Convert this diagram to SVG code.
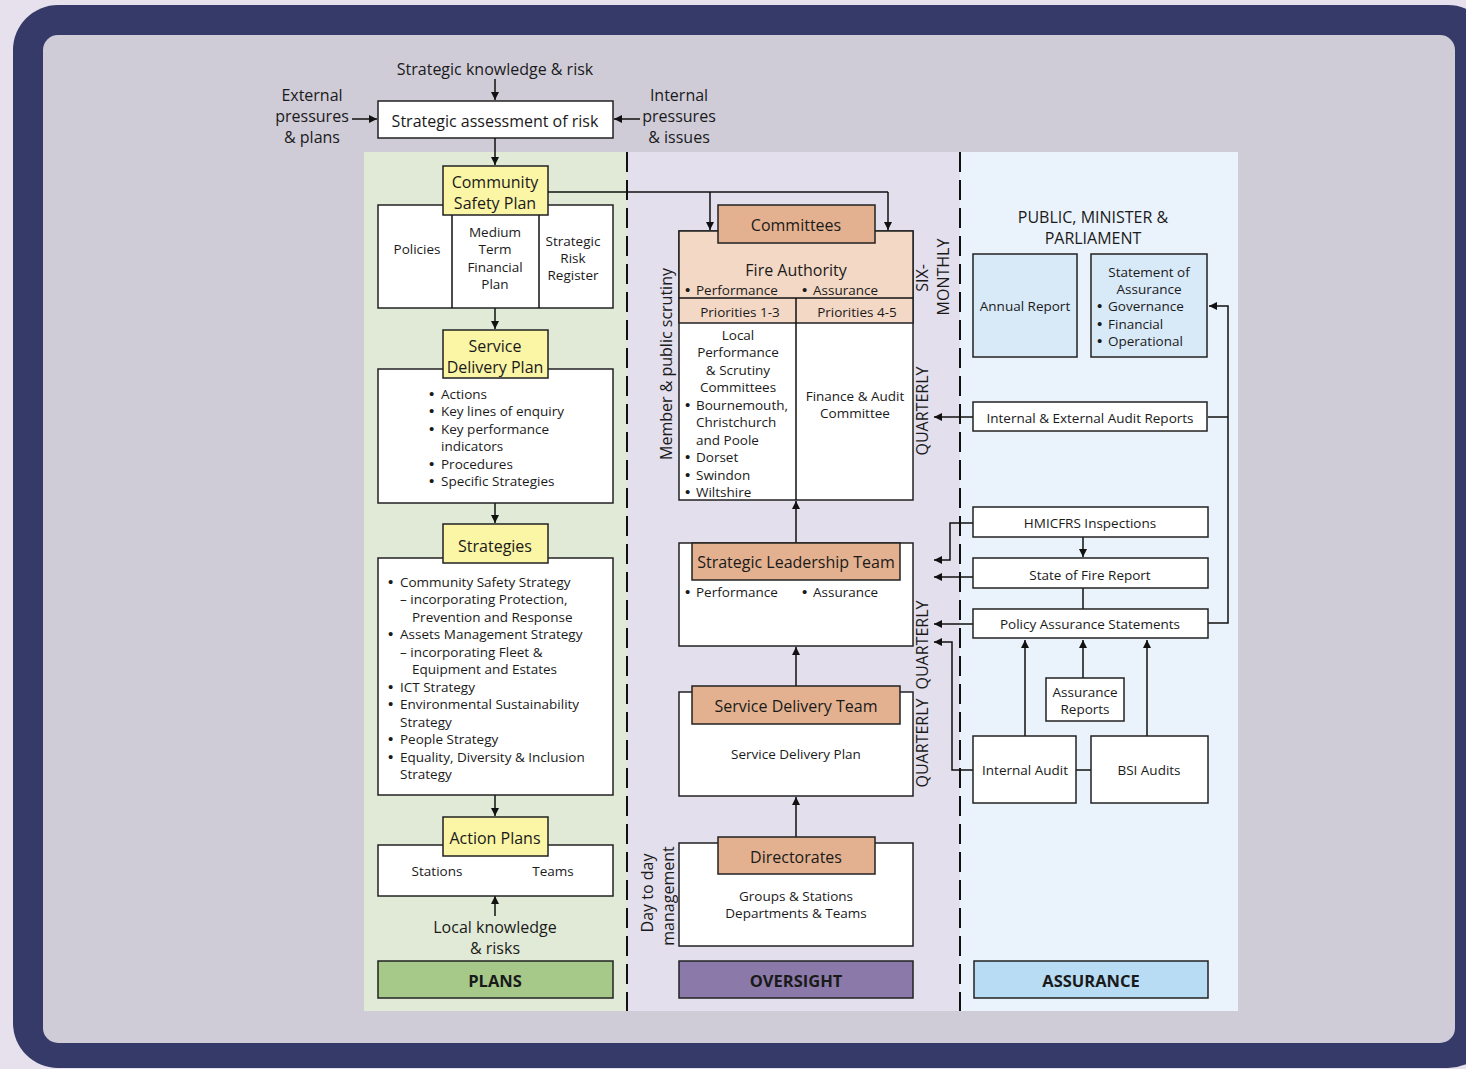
<svg xmlns="http://www.w3.org/2000/svg" width="1466" height="1069" viewBox="0 0 1466 1069">
<defs>
<marker id="ah" viewBox="0 0 10 10" refX="10" refY="5" markerWidth="9" markerHeight="8" markerUnits="userSpaceOnUse" orient="auto">
<path d="M0,0 L10,5 L0,10 z" fill="#111"/>
</marker>
<style>
text{font-family:"Open Sans","Noto Sans","Liberation Sans",sans-serif;fill:#1a1a1a}
.L{font-size:16px}
.S{font-size:13.5px}
.c{text-anchor:middle}
.B{font-weight:bold;font-size:16.5px}
.bu{font-family:"Liberation Sans",sans-serif;font-size:15px}
.box{fill:#fff;stroke:#222;stroke-width:1.5}
.yel{fill:#fbf5a6;stroke:#222;stroke-width:1.5}
.pch{fill:#e3b18f;stroke:#222;stroke-width:1.5}
.lpch{fill:#f3d8c5;stroke:#222;stroke-width:1.5}
.blu{fill:#d8e9f8;stroke:#222;stroke-width:1.5}
.ln{fill:none;stroke:#111;stroke-width:1.5}
.ar{fill:none;stroke:#111;stroke-width:1.5;marker-end:url(#ah)}
.dash{stroke:#111;stroke-width:2;stroke-dasharray:20 8}
</style>
</defs>
<rect x="0" y="0" width="1466" height="1069" fill="#e6e1ec"/>
<rect x="13" y="5" width="1480" height="1063" rx="45" fill="#363a68"/>
<rect x="43" y="35" width="1412" height="1008" rx="15" fill="#cfccd8"/>
<rect x="364" y="152" width="263" height="859" fill="#e1ead6"/>
<rect x="627" y="152" width="333" height="859" fill="#e3dfec"/>
<rect x="960" y="152" width="278" height="859" fill="#eaf2fb"/>
<line class="dash" x1="627" y1="152" x2="627" y2="1011"/>
<line class="dash" x1="960" y1="152" x2="960" y2="1011"/>

<g id="top-labels">
<text class="L c" x="495" y="75">Strategic knowledge &amp; risk</text>
<text class="L c" x="312" y="101">External</text>
<text class="L c" x="312" y="122">pressures</text>
<text class="L c" x="312" y="143">&amp; plans</text>
<text class="L c" x="679" y="101">Internal</text>
<text class="L c" x="679" y="122">pressures</text>
<text class="L c" x="679" y="143">&amp; issues</text>
</g>
<g id="strategic-assessment">
<rect class="box" x="378" y="101" width="235" height="37"/>
<text class="L c" x="495" y="127">Strategic assessment of risk</text>
</g>

<g id="connectors">
<path class="ar" d="M495,79 V100"/>
<path class="ar" d="M352,119 H377"/>
<path class="ar" d="M640,119 H614"/>
<path class="ar" d="M495,138 V165"/>
<path class="ln" d="M548,192 H888"/>
<path class="ar" d="M710,192 V230"/>
<path class="ar" d="M888,192 V230"/>
<path class="ar" d="M495,308 V329"/>
<path class="ar" d="M495,503 V523"/>
<path class="ar" d="M495,795 V816"/>
<path class="ar" d="M495,916 V896"/>
<path class="ln" d="M495,896 V856"/>
<path class="ar" d="M796,543 V501"/>
<path class="ar" d="M796,686 V647"/>
<path class="ar" d="M796,837 V797"/>
<path class="ar" d="M973,417 H934"/>
<path class="ar" d="M973,523 H950 V560 H934"/>
<path class="ar" d="M973,577 H934"/>
<path class="ar" d="M973,624 H934"/>
<path class="ar" d="M973,770 H952 V642 H934"/>
<path class="ar" d="M1083,537 V557"/>
<path class="ln" d="M1083,588 V609"/>
<path class="ar" d="M1083,678 V640"/>
<path class="ar" d="M1025,736 V640"/>
<path class="ar" d="M1147,736 V640"/>
<path class="ln" d="M1076,770 H1091"/>
<path class="ar" d="M1208,623 H1228 V306 H1209"/>
<path class="ln" d="M1208,417 H1228"/>
</g>

<g id="community-safety-plan">
<rect class="box" x="378" y="205" width="235" height="103"/>
<line class="ln" x1="452" y1="205" x2="452" y2="308"/>
<line class="ln" x1="539" y1="205" x2="539" y2="308"/>
<rect class="yel" x="443" y="166" width="105" height="49"/>
<text class="L c" x="495" y="188">Community</text>
<text class="L c" x="495" y="209">Safety Plan</text>
<text class="S c" x="417" y="254">Policies</text>
<text class="S c" x="495" y="237">Medium</text>
<text class="S c" x="495" y="254">Term</text>
<text class="S c" x="495" y="272">Financial</text>
<text class="S c" x="495" y="289">Plan</text>
<text class="S c" x="573" y="246">Strategic</text>
<text class="S c" x="573" y="263">Risk</text>
<text class="S c" x="573" y="280">Register</text>
</g>

<g id="service-delivery-plan">
<rect class="box" x="378" y="369" width="235" height="134"/>
<rect class="yel" x="443" y="330" width="105" height="48"/>
<text class="L c" x="495" y="352">Service</text>
<text class="L c" x="495" y="373">Delivery Plan</text>
<g class="S">
<text class="bu" x="429" y="399">•</text><text x="441" y="399">Actions</text>
<text class="bu" x="429" y="416">•</text><text x="441" y="416">Key lines of enquiry</text>
<text class="bu" x="429" y="434">•</text><text x="441" y="434">Key performance</text>
<text x="441" y="451">indicators</text>
<text class="bu" x="429" y="469">•</text><text x="441" y="469">Procedures</text>
<text class="bu" x="429" y="486">•</text><text x="441" y="486">Specific Strategies</text>
</g>
</g>

<g id="strategies">
<rect class="box" x="378" y="558" width="235" height="237"/>
<rect class="yel" x="443" y="524" width="105" height="39"/>
<text class="L c" x="495" y="552">Strategies</text>
<g class="S">
<text class="bu" x="388" y="587">•</text><text x="400" y="587">Community Safety Strategy</text>
<text x="400" y="604">– incorporating Protection,</text>
<text x="412" y="622">Prevention and Response</text>
<text class="bu" x="388" y="639">•</text><text x="400" y="639">Assets Management Strategy</text>
<text x="400" y="657">– incorporating Fleet &amp;</text>
<text x="412" y="674">Equipment and Estates</text>
<text class="bu" x="388" y="692">•</text><text x="400" y="692">ICT Strategy</text>
<text class="bu" x="388" y="709">•</text><text x="400" y="709">Environmental Sustainability</text>
<text x="400" y="727">Strategy</text>
<text class="bu" x="388" y="744">•</text><text x="400" y="744">People Strategy</text>
<text class="bu" x="388" y="762">•</text><text x="400" y="762">Equality, Diversity &amp; Inclusion</text>
<text x="400" y="779">Strategy</text>
</g>
</g>

<g id="action-plans">
<rect class="box" x="378" y="845" width="235" height="51"/>
<rect class="yel" x="443" y="817" width="105" height="39"/>
<text class="L c" x="495" y="844">Action Plans</text>
<text class="S c" x="437" y="876">Stations</text>
<text class="S c" x="553" y="876">Teams</text>
</g>
<g id="local-knowledge">
<text class="L c" x="495" y="933">Local knowledge</text>
<text class="L c" x="495" y="954">&amp; risks</text>
</g>
<g id="plans-label">
<rect x="378" y="961" width="235" height="37" fill="#a6c98a" stroke="#222" stroke-width="1.5"/>
<text class="B c" x="495" y="987">PLANS</text>
</g>

<g id="fire-authority">
<rect class="box" x="679" y="231" width="234" height="269"/>
<rect class="lpch" x="679" y="231" width="234" height="92"/>
<line class="ln" x1="679" y1="298" x2="913" y2="298"/>
<line class="ln" x1="796" y1="298" x2="796" y2="500"/>
<rect class="pch" x="718" y="205" width="157" height="38"/>
<text class="L c" x="796" y="231">Committees</text>
<text class="L c" x="796" y="276">Fire Authority</text>
<g class="S">
<text class="bu" x="685" y="295">•</text><text x="696" y="295">Performance</text>
<text class="bu" x="802" y="295">•</text><text x="813" y="295">Assurance</text>
<text class="c" x="740" y="317">Priorities 1-3</text>
<text class="c" x="857" y="317">Priorities 4-5</text>
<text class="c" x="738" y="340">Local</text>
<text class="c" x="738" y="357">Performance</text>
<text class="c" x="738" y="375">&amp; Scrutiny</text>
<text class="c" x="738" y="392">Committees</text>
<text class="bu" x="685" y="410">•</text><text x="696" y="410">Bournemouth,</text>
<text x="696" y="427">Christchurch</text>
<text x="696" y="445">and Poole</text>
<text class="bu" x="685" y="462">•</text><text x="696" y="462">Dorset</text>
<text class="bu" x="685" y="480">•</text><text x="696" y="480">Swindon</text>
<text class="bu" x="685" y="497">•</text><text x="696" y="497">Wiltshire</text>
<text class="c" x="855" y="401">Finance &amp; Audit</text>
<text class="c" x="855" y="418">Committee</text>
</g>
</g>

<g id="side-labels">
<text class="L c" transform="translate(672,364) rotate(-90)">Member &amp; public scrutiny</text>
<text class="L c" transform="translate(928,278) rotate(-90)">SIX-</text>
<text class="L c" transform="translate(949,277) rotate(-90)">MONTHLY</text>
<text class="L c" transform="translate(928,411) rotate(-90)">QUARTERLY</text>
<text class="L c" transform="translate(928,645) rotate(-90)">QUARTERLY</text>
<text class="L c" transform="translate(928,743) rotate(-90)">QUARTERLY</text>
<text class="L c" transform="translate(653,893) rotate(-90)">Day to day</text>
<text class="L c" transform="translate(674,896) rotate(-90)">management</text>
</g>

<g id="strategic-leadership-team">
<rect class="box" x="679" y="543" width="234" height="103"/>
<rect class="pch" x="692" y="543" width="208" height="37"/>
<text class="L c" x="796" y="568">Strategic Leadership Team</text>
<g class="S">
<text class="bu" x="685" y="597">•</text><text x="696" y="597">Performance</text>
<text class="bu" x="802" y="597">•</text><text x="813" y="597">Assurance</text>
</g>
</g>

<g id="service-delivery-team">
<rect class="box" x="679" y="692" width="234" height="104"/>
<rect class="pch" x="692" y="686" width="208" height="38"/>
<text class="L c" x="796" y="712">Service Delivery Team</text>
<text class="S c" x="796" y="759">Service Delivery Plan</text>
</g>

<g id="directorates">
<rect class="box" x="679" y="843" width="234" height="103"/>
<rect class="pch" x="718" y="837" width="157" height="37"/>
<text class="L c" x="796" y="863">Directorates</text>
<text class="S c" x="796" y="901">Groups &amp; Stations</text>
<text class="S c" x="796" y="918">Departments &amp; Teams</text>
</g>
<g id="oversight-label">
<rect x="679" y="961" width="234" height="37" fill="#8b7aa9" stroke="#222" stroke-width="1.5"/>
<text class="B c" x="796" y="987">OVERSIGHT</text>
</g>

<g id="public-minister">
<text class="L c" x="1093" y="223">PUBLIC, MINISTER &amp;</text>
<text class="L c" x="1093" y="244">PARLIAMENT</text>
</g>
<g id="annual-report">
<rect class="blu" x="973" y="254" width="104" height="103"/>
<text class="S c" x="1025" y="311">Annual Report</text>
</g>
<g id="statement-of-assurance">
<rect class="blu" x="1091" y="254" width="116" height="103"/>
<g class="S">
<text class="c" x="1149" y="277">Statement of</text>
<text class="c" x="1149" y="294">Assurance</text>
<text class="bu" x="1097" y="311">•</text><text x="1108" y="311">Governance</text>
<text class="bu" x="1097" y="329">•</text><text x="1108" y="329">Financial</text>
<text class="bu" x="1097" y="346">•</text><text x="1108" y="346">Operational</text>
</g>
</g>
<g id="audit-reports">
<rect class="box" x="973" y="402" width="234" height="29"/>
<text class="S c" x="1090" y="423">Internal &amp; External Audit Reports</text>
</g>
<g id="hmicfrs">
<rect class="box" x="973" y="507" width="235" height="30"/>
<text class="S c" x="1090" y="528">HMICFRS Inspections</text>
</g>
<g id="state-of-fire">
<rect class="box" x="973" y="558" width="235" height="30"/>
<text class="S c" x="1090" y="580">State of Fire Report</text>
</g>
<g id="policy-assurance">
<rect class="box" x="973" y="609" width="235" height="29"/>
<text class="S c" x="1090" y="629">Policy Assurance Statements</text>
</g>
<g id="assurance-reports">
<rect class="box" x="1046" y="678" width="78" height="43"/>
<text class="S c" x="1085" y="697">Assurance</text>
<text class="S c" x="1085" y="714">Reports</text>
</g>
<g id="internal-audit">
<rect class="box" x="973" y="736" width="103" height="67"/>
<text class="S c" x="1025" y="775">Internal Audit</text>
</g>
<g id="bsi-audits">
<rect class="box" x="1091" y="736" width="117" height="67"/>
<text class="S c" x="1149" y="775">BSI Audits</text>
</g>
<g id="assurance-label">
<rect x="974" y="961" width="234" height="37" fill="#b9dcf5" stroke="#222" stroke-width="1.5"/>
<text class="B c" x="1091" y="987">ASSURANCE</text>
</g>
</svg>
